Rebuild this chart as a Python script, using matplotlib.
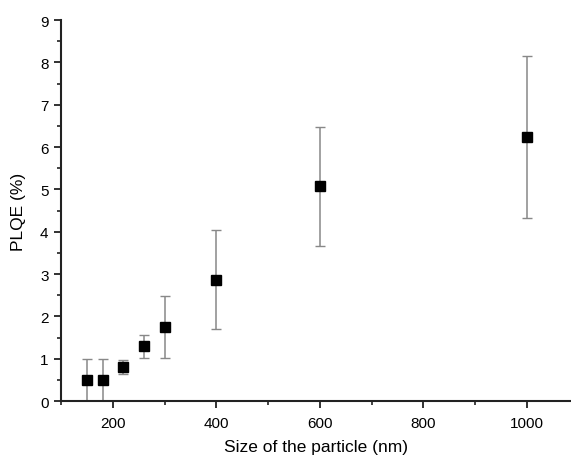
import matplotlib
matplotlib.use("Agg")
import matplotlib.pyplot as plt
from matplotlib.ticker import MultipleLocator

size_nm = [150, 180, 220, 260, 300, 400, 600, 1000]
plqe = [0.50, 0.50, 0.81, 1.29, 1.75, 2.87, 5.08, 6.24]
err_low = [0.00, 0.00, 0.63, 1.02, 1.02, 1.71, 3.67, 4.32]
err_high = [1.00, 1.00, 0.98, 1.56, 2.48, 4.03, 6.48, 8.16]

plt.rcParams['font.family'] = ['Liberation Sans', 'DejaVu Sans']

fig = plt.figure(figsize=(5.71, 4.60), dpi=100)
ax = fig.add_axes([0.107, 0.126, 0.893, 0.828])

yerr = [[p - lo for p, lo in zip(plqe, err_low)], [hi - p for p, hi in zip(plqe, err_high)]]
ax.errorbar(size_nm, plqe, yerr=yerr, fmt='none', ecolor='#888888', elinewidth=1.1,
            capsize=3.5, capthick=1.0, zorder=2)
ax.plot(size_nm, plqe, 's', color='black', markersize=6.8, zorder=3)

ax.set_xlim(100, 1085)
ax.set_ylim(0, 9)
ax.xaxis.set_major_locator(MultipleLocator(200))
ax.xaxis.set_minor_locator(MultipleLocator(100))
ax.yaxis.set_major_locator(MultipleLocator(1))
ax.yaxis.set_minor_locator(MultipleLocator(0.5))

for s in ['top', 'right']:
    ax.spines[s].set_visible(False)
for s in ['left', 'bottom']:
    ax.spines[s].set_linewidth(1.5)
    ax.spines[s].set_color('#222222')

ax.tick_params(which='major', direction='out', length=5, width=1.3, color='#222222',
               labelsize=11, pad=4)
ax.tick_params(axis='x', which='major', pad=6)
ax.tick_params(which='minor', direction='out', length=3, width=1.2, color='#222222')
ax.set_xticks([200, 400, 600, 800, 1000])

ax.set_xlabel('Size of the particle (nm)', fontsize=12.5, labelpad=6)
ax.set_ylabel('PLQE (%)', fontsize=12.5, labelpad=10)

fig.savefig('out.png', dpi=100)
